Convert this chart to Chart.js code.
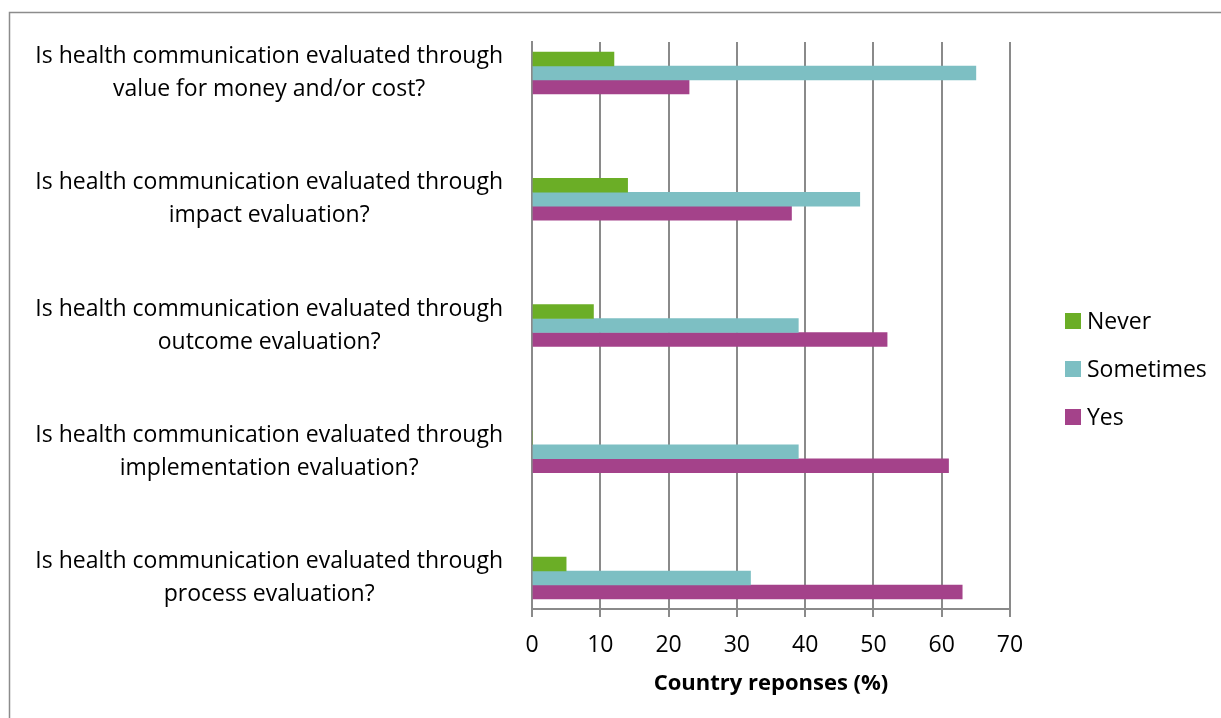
<!DOCTYPE html>
<html>
<head>
<meta charset="utf-8">
<title>Evaluation of health communication</title>
<script src="https://cdn.jsdelivr.net/npm/chart.js@4.4.1/dist/chart.umd.min.js"></script>
<style>
  html, body { margin: 0; padding: 0; background: #ffffff; }
  canvas { display: block; }
</style>
</head>
<body>
<canvas id="chart" width="1221" height="718"></canvas>
<script>
// Survey questions (two lines each), top to bottom
const categories = [
  ["Is health communication evaluated through", "value for money and/or cost?"],
  ["Is health communication evaluated through", "impact evaluation?"],
  ["Is health communication evaluated through", "outcome evaluation?"],
  ["Is health communication evaluated through", "implementation evaluation?"],
  ["Is health communication evaluated through", "process evaluation?"]
];

// Share of country responses (%)
const never     = [12, 14, 9, 0, 5];
const sometimes = [65, 48, 39, 39, 32];
const yes       = [23, 38, 52, 61, 63];

const seriesNames = ["Never", "Sometimes", "Yes"];
const xTicks = [0, 10, 20, 30, 40, 50, 60, 70];
const axisTitle = "Country reponses (%)";

const FONT = "'Open Sans', 'DejaVu Sans', sans-serif";
const GRID = "#8a8a8a";

// Pair each value with its question index for the numeric category axis
const toPoints = values => values.map((v, i) => ({ x: v, y: i }));

// Grey frame around the whole graphic
const framePlugin = {
  id: "frame",
  beforeDraw(chart) {
    const ctx = chart.ctx;
    ctx.save();
    ctx.strokeStyle = "#8c8c8c";
    ctx.lineWidth = 1.5;
    ctx.strokeRect(9.5, 12.5, chart.width + 20, chart.height + 20);
    ctx.restore();
  }
};

// Legend on the right
const legendPlugin = {
  id: "sideLegend",
  afterDraw(chart) {
    const ctx = chart.ctx;
    const left = chart.chartArea.right + 55;
    const startY = 321;
    const step = 48;
    ctx.save();
    ctx.font = "23px " + FONT;
    ctx.textBaseline = "middle";
    ctx.textAlign = "left";
    chart.data.datasets.forEach((ds, i) => {
      const cy = startY + i * step;
      ctx.fillStyle = ds.backgroundColor;
      ctx.fillRect(left, cy - 8, 16, 16);
      ctx.fillStyle = "#000000";
      ctx.fillText(ds.label, left + 22, cy + 1);
    });
    ctx.restore();
  }
};

new Chart(document.getElementById("chart"), {
  type: "bar",
  data: {
    datasets: [
      { label: seriesNames[0], data: toPoints(never),     backgroundColor: "#6BAE26" },
      { label: seriesNames[1], data: toPoints(sometimes), backgroundColor: "#7DBFC3" },
      { label: seriesNames[2], data: toPoints(yes),       backgroundColor: "#A4428A" }
    ]
  },
  options: {
    indexAxis: "y",
    responsive: false,
    animation: false,
    devicePixelRatio: 1,
    layout: { padding: { top: 42, right: 211, bottom: 0, left: 0 } },
    datasets: { bar: { barThickness: 14, borderWidth: 0 } },
    plugins: {
      legend: { display: false },
      tooltip: { enabled: false }
    },
    scales: {
      x: {
        type: "linear",
        min: 0,
        max: 70,
        afterFit(scale) { scale.height = 109; scale.paddingLeft = 0; scale.paddingRight = 0; },
        afterBuildTicks(scale) { scale.ticks = xTicks.map(v => ({ value: v })); },
        grid: { display: true, color: GRID, lineWidth: 2, drawTicks: true, tickLength: 8, tickColor: GRID },
        border: { display: true, color: GRID, width: 2 },
        ticks: {
          padding: 15,
          color: "#000000",
          font: { family: FONT, size: 23 }
        },
        title: {
          display: true,
          text: axisTitle,
          color: "#000000",
          font: { family: FONT, size: 22, weight: "bold" },
          padding: { top: 0, bottom: 21 }
        }
      },
      y: {
        type: "linear",
        reverse: true,
        offset: false,
        min: -0.2456,
        max: 4.2456,
        afterFit(scale) { scale.width = 532; scale.paddingTop = 0; scale.paddingBottom = 0; },
        afterBuildTicks(scale) { scale.ticks = categories.map((c, i) => ({ value: i })); },
        grid: { display: false, drawTicks: false, offset: false },
        border: { display: true, color: GRID, width: 2 },
        ticks: {
          crossAlign: "center",
          padding: 29,
          color: "#000000",
          font: { family: FONT, size: 23, lineHeight: 1.435 },
          callback: value => categories[value]
        }
      }
    }
  },
  plugins: [framePlugin, legendPlugin]
});
</script>
</body>
</html>
